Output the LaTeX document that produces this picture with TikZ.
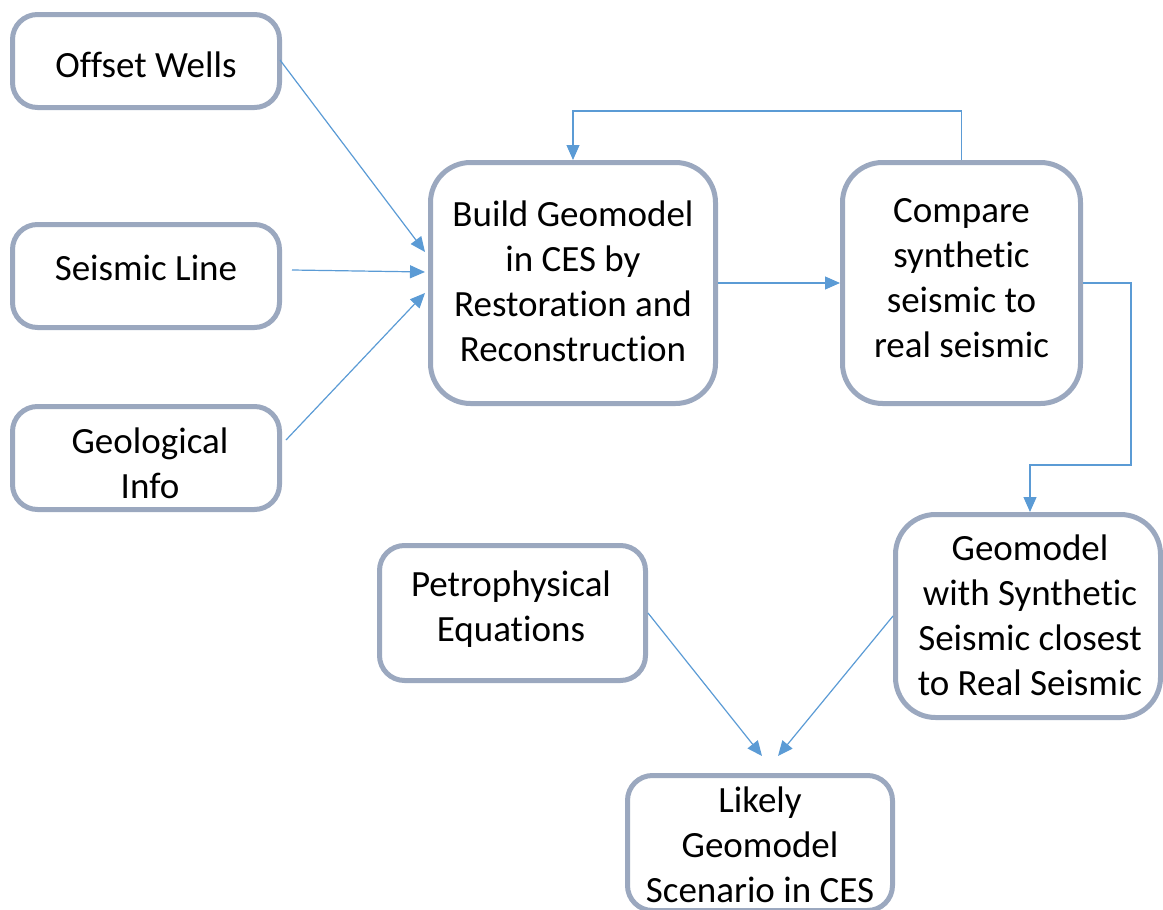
\documentclass[tikz,border=0pt]{standalone}
\usepackage{fontspec}
\setmainfont[Ligatures={NoCommon}]{Carlito}
\usetikzlibrary{arrows.meta,calc}
\definecolor{boxcol}{RGB}{155,168,191}
\definecolor{arrcol}{RGB}{91,155,213}
\tikzset{
  box/.style={draw=boxcol, line width=5pt, rounded corners=25pt, fill=white,
    align=center, inner sep=0pt},
  bigbox/.style={box, rounded corners=40pt},
  txt/.style={font=\fontsize{37}{45}\selectfont, align=center, inner sep=0pt},
  conn/.style={draw=arrcol, line width=1.2pt, -{Triangle[length=15pt,width=13pt]}}
}
\begin{document}
\begin{tikzpicture}[x=1pt,y=-1pt]
\useasboundingbox (0,0) rectangle (1163,910);
\clip (0,0) rectangle (1163,910);
\node[box, minimum width=267pt, minimum height=93pt] (ow) at (146,61) {};
\node[txt] (owt) at (146,65) {Offset Wells};
\node[box, minimum width=267pt, minimum height=103pt] (sl) at (146,276) {};
\node[txt] (slt) at (146,268) {Seismic Line};
\node[box, minimum width=267pt, minimum height=103pt] (gi) at (146,458) {};
\node[txt] (git) at (150,463) {Geological\\Info};
\node[bigbox, minimum width=285pt, minimum height=241pt] (bg) at (573,283) {};
\node[txt] (bgt) at (573,281) {Build Geomodel\\in CES by\\Restoration and\\Reconstruction};
\node[bigbox, minimum width=238pt, minimum height=241pt] (cmp) at (961.5,283) {};
\node[txt] (cmpt) at (961.5,278) {Compare\\synthetic\\seismic to\\real seismic};
\node[bigbox, minimum width=265pt, minimum height=203pt] (gws) at (1028,616) {};
\node[txt] (gwst) at (1030,615) {Geomodel\\with Synthetic\\Seismic closest\\to Real Seismic};
\node[box, minimum width=266pt, minimum height=135pt] (pe) at (512.5,613) {};
\node[txt] (pet) at (511,609) {Petrophysical\\Equations};
\node[box, minimum width=265pt, minimum height=135pt] (lk) at (760,843) {};
\node[txt] (lkt) at (760,845) {Likely\\Geomodel\\Scenario in CES};

\draw[conn] ($(ow.east)+(-2,-1)$) -- ($(bg.west)+(-3,-31)$);
\draw[conn] ($(sl.east)+(10,-6)$) -- ($(bg.west)+(-3,-11)$);
\draw[conn] ($(gi.east)+(4,-18)$) -- ($(bg.west)+(-3,10)$);
\draw[conn] (bg.east) -- (cmp.west);
\draw[conn] (cmp.north) -- ++(0,-49) -| (bg.north);
\draw[conn] (cmp.east) -- ++(48,0) -- ++(0,182) -| ($(gws.north)+(2,0)$);
\draw[conn] (pe.east) -- ($(lk.north)+(2,-17)$);
\draw[conn] (gws.west) -- ($(lk.north)+(18,-17)$);
\end{tikzpicture}
\end{document}
